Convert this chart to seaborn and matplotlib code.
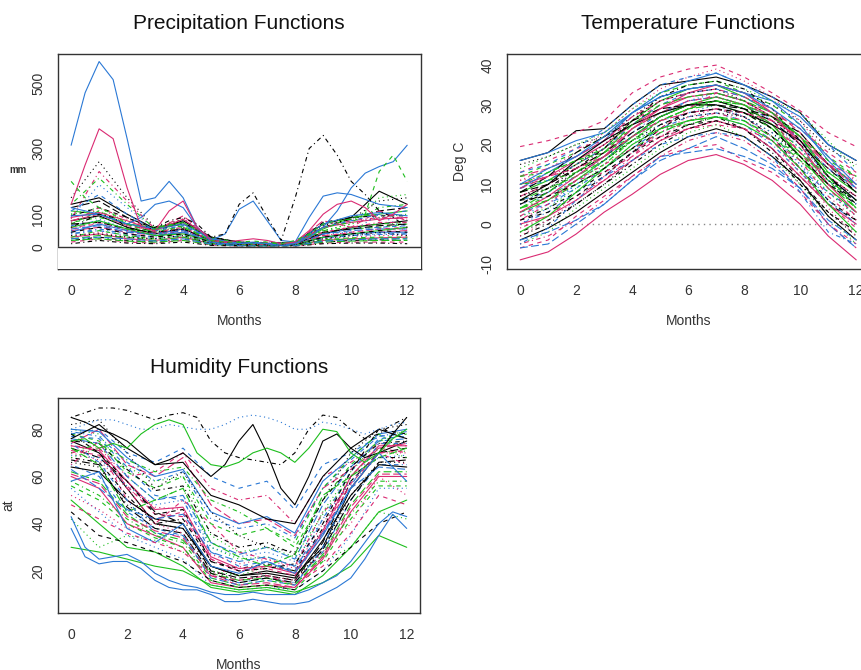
import numpy as np
import pandas as pd
import matplotlib
matplotlib.use("Agg")
import matplotlib.pyplot as plt
import seaborn as sns

# ------------------------------------------------------
# DATA
# bulk curves: monthly values at months 0..12
# special curves: half-month values at 0, 0.5, ..., 12
precip_curves = [
    [80, 95, 60, 40, 55, 20, 10, 8, 10, 40, 60, 70, 80],
    [60, 70, 40, 30, 45, 15, 8, 5, 8, 30, 45, 55, 60],
    [100, 120, 75, 50, 60, 25, 12, 10, 12, 50, 70, 90, 100],
    [40, 50, 35, 25, 35, 12, 6, 5, 6, 25, 35, 38, 40],
    [120, 140, 90, 55, 70, 30, 15, 12, 15, 60, 85, 110, 120],
    [30, 40, 25, 20, 30, 10, 5, 4, 5, 20, 25, 28, 30],
    [70, 110, 70, 45, 65, 20, 10, 8, 10, 45, 55, 60, 70],
    [90, 190, 120, 55, 80, 25, 12, 15, 12, 70, 80, 85, 90],
    [20, 30, 20, 15, 25, 8, 4, 3, 4, 15, 20, 22, 20],
    [50, 60, 45, 35, 50, 18, 8, 6, 8, 35, 40, 45, 50],
    [110, 100, 70, 60, 75, 25, 10, 8, 10, 55, 90, 100, 110],
    [65, 80, 50, 40, 55, 15, 8, 6, 10, 40, 55, 60, 65],
    [150, 260, 150, 60, 85, 30, 15, 10, 15, 65, 85, 140, 150],
    [85, 230, 140, 55, 70, 28, 14, 12, 14, 60, 80, 90, 85],
    [25, 35, 30, 20, 30, 10, 5, 4, 5, 20, 25, 25, 25],
    [45, 70, 50, 35, 45, 15, 7, 6, 7, 30, 40, 45, 45],
    [95, 120, 90, 50, 75, 25, 12, 10, 12, 75, 90, 95, 95],
    [35, 45, 30, 25, 40, 12, 6, 5, 6, 25, 30, 35, 35],
    [75, 90, 70, 45, 60, 22, 10, 8, 10, 50, 60, 70, 75],
    [55, 65, 45, 40, 50, 18, 8, 7, 8, 40, 50, 55, 55],
    [130, 150, 100, 55, 80, 30, 14, 10, 14, 70, 90, 170, 130],
    [15, 25, 15, 12, 20, 6, 3, 2, 3, 12, 15, 15, 15],
    [100, 110, 70, 50, 65, 22, 10, 8, 10, 50, 70, 150, 160],
    [40, 55, 40, 30, 45, 14, 7, 5, 7, 30, 35, 40, 40],
    [70, 75, 55, 45, 55, 20, 9, 8, 9, 45, 55, 65, 70],
    [90, 105, 80, 50, 85, 25, 11, 9, 11, 60, 75, 85, 90],
    [30, 50, 35, 25, 35, 11, 5, 4, 5, 22, 28, 30, 30],
    [50, 85, 55, 35, 50, 16, 8, 6, 8, 40, 45, 100, 50],
    [10, 20, 12, 10, 15, 5, 3, 2, 3, 10, 12, 12, 10],
    [80, 100, 65, 50, 95, 25, 12, 9, 12, 80, 60, 110, 80],
    [60, 80, 55, 35, 40, 18, 8, 6, 8, 30, 40, 50, 60],
    [110, 160, 100, 50, 65, 25, 12, 9, 12, 60, 80, 100, 110],
    [35, 40, 30, 25, 35, 10, 5, 4, 5, 25, 35, 45, 35],
    [75, 120, 85, 45, 60, 20, 10, 8, 10, 45, 60, 75, 75],
    [20, 25, 18, 15, 20, 8, 4, 3, 4, 15, 18, 20, 20],
    [95, 100, 70, 55, 70, 25, 12, 10, 12, 70, 95, 105, 95],
    [45, 60, 40, 30, 40, 15, 7, 6, 7, 30, 40, 50, 45],
    [55, 75, 50, 40, 55, 18, 9, 7, 9, 35, 45, 55, 55],
    [130, 210, 130, 55, 75, 28, 14, 10, 14, 60, 75, 120, 130],
    [25, 30, 25, 18, 25, 9, 4, 3, 4, 18, 22, 25, 25],
]
precip_big_blue = [310, 470, 565, 510, 330, 140, 150, 200, 150, 60, 15, 10, 10,
                   15, 10, 5, 10, 30, 60, 110, 180, 225, 245, 260, 310]
precip_blue2 = [120, 110, 100, 85, 70, 90, 130, 140, 120, 60, 20, 40, 115,
                140, 80, 20, 15, 90, 155, 165, 160, 145, 130, 125, 120]
precip_black_dashdot = [60, 80, 100, 90, 60, 50, 60, 80, 90, 70, 30, 40, 130,
                        165, 90, 20, 150, 300, 340, 280, 200, 160, 110, 90, 60]
precip_pink = [130, 250, 360, 330, 180, 60, 50, 110, 140, 60, 20, 15, 20,
               25, 20, 10, 15, 50, 100, 130, 140, 120, 80, 100, 130]
precip_green = [200, 150, 120, 100, 70, 50, 55, 70, 60, 40, 20, 15, 15,
                18, 15, 10, 20, 40, 70, 80, 85, 100, 230, 280, 200]

temp_curves = [
    [16, 18, 23.5, 24, 30, 35, 36, 37, 35, 32, 28, 20, 16],
    [-6, -4, 2, 7, 12, 17, 19, 20, 16, 13, 8, 0, -6],
    [-5, -2, 4, 9, 14, 19, 23, 25, 22, 17, 10, 2, -5],
    [0, 3, 8, 12, 18, 23, 26, 27, 25, 20, 13, 6, 0],
    [5, 8, 13, 17, 22, 27, 30, 31, 29, 24, 17, 10, 5],
    [10, 12, 16, 20, 25, 29, 32, 33, 31, 27, 21, 15, 10],
    [12, 15, 18, 22, 28, 33, 35, 36, 33, 30, 25, 17, 12],
    [2, 5, 10, 14, 20, 25, 28, 30, 27, 22, 15, 8, 2],
    [-3, 0, 5, 10, 16, 21, 25, 27, 24, 19, 11, 3, -3],
    [7, 10, 14, 18, 24, 28, 31, 32, 30, 25, 18, 12, 7],
    [8, 11, 15, 19, 26, 31, 34, 35, 32, 28, 22, 13, 8],
    [3, 5, 9, 14, 19, 24, 27, 28, 26, 21, 14, 8, 3],
    [15, 17, 20, 22, 27, 32, 34, 35, 33, 30, 26, 19, 15],
    [-1, 2, 7, 11, 17, 22, 26, 28, 26, 21, 13, 5, -1],
    [6, 9, 12, 16, 21, 26, 29, 30, 28, 24, 18, 11, 6],
    [9, 13, 17, 21, 28, 33, 36, 38, 35, 31, 25, 16, 9],
    [1, 4, 8, 13, 18, 22, 25, 26, 24, 19, 12, 5, 1],
    [11, 14, 18, 23, 29, 34, 37, 39, 36, 32, 26, 17, 11],
    [4, 7, 11, 15, 21, 26, 29, 31, 29, 25, 19, 11, 4],
    [-6, -5, 0, 5, 11, 16, 19, 22, 19, 15, 9, 0, -6],
    [-4, -1, 3, 8, 13, 18, 22, 24, 22, 17, 11, 2, -4],
    [13, 16, 19, 21, 26, 30, 32, 33, 31, 28, 24, 18, 13],
    [2, 4, 9, 15, 21, 27, 30, 31, 29, 24, 16, 8, 2],
    [6, 8, 12, 17, 23, 28, 31, 32, 30, 26, 20, 12, 6],
    [8, 10, 14, 18, 23, 27, 30, 31, 29, 26, 20, 14, 8],
    [0, 2, 6, 11, 16, 21, 24, 26, 24, 19, 12, 5, 0],
    [10, 13, 16, 19, 24, 28, 30, 31, 30, 27, 22, 15, 10],
    [5, 7, 11, 16, 22, 27, 31, 33, 31, 26, 19, 11, 5],
    [-2, 1, 5, 10, 15, 20, 24, 26, 24, 18, 10, 3, -2],
    [12, 14, 17, 21, 27, 31, 33, 34, 32, 29, 23, 15, 12],
    [3, 6, 11, 16, 22, 27, 30, 32, 30, 25, 17, 9, 3],
    [9, 11, 15, 19, 25, 30, 33, 34, 32, 28, 21, 14, 9],
    [7, 9, 13, 16, 21, 25, 27, 28, 27, 23, 17, 11, 7],
    [-5, -3, 1, 6, 12, 17, 21, 23, 21, 16, 9, 0, -5],
    [4, 6, 10, 14, 19, 23, 26, 27, 26, 22, 16, 10, 4],
    [16, 18, 21, 23, 28, 32, 34, 35, 33, 31, 27, 20, 16],
    [1, 3, 7, 12, 18, 24, 28, 29, 27, 22, 14, 6, 1],
    [11, 12, 15, 19, 24, 28, 31, 32, 30, 27, 21, 14, 11],
    [10, 11, 13, 17, 21, 24, 25, 27, 26, 22, 17, 13, 10],
    [-4, -2, 1, 5, 11, 17, 18, 19, 17, 14, 9, 1, -4],
    [6, 10, 16, 21, 25, 28, 30, 30, 28, 25, 21, 12, 6],
    [2, 6, 11, 13, 17, 24, 29, 33, 31, 26, 18, 9, 2],
    [14, 17, 20, 23, 29, 33, 35, 36, 34, 31, 28, 21, 14],
    [-5, -1, 6, 12, 16, 20, 22, 23, 22, 17, 8, -2, -5],
    [8, 12, 18, 22, 26, 29, 30, 30, 29, 27, 23, 15, 8],
    [3, 7, 12, 17, 24, 29, 33, 35, 33, 28, 20, 10, 3],
    [12, 13, 16, 18, 22, 26, 29, 31, 30, 27, 22, 16, 12],
    [0, 4, 10, 16, 22, 26, 28, 29, 27, 23, 15, 6, 0],
    [5, 9, 14, 19, 26, 32, 35, 36, 34, 29, 21, 12, 5],
    [9, 12, 14, 17, 22, 26, 28, 29, 28, 26, 22, 15, 9],
    [-2, 2, 8, 14, 20, 24, 26, 27, 25, 21, 14, 5, -2],
    [13, 15, 19, 24, 30, 35, 37, 38, 35, 32, 28, 20, 13],
    [7, 10, 15, 20, 26, 31, 33, 34, 31, 27, 20, 12, 7],
    [1, 5, 11, 15, 19, 22, 24, 25, 24, 21, 16, 7, 1],
    [4, 8, 13, 18, 25, 30, 32, 33, 31, 28, 22, 12, 4],
    [10, 14, 17, 22, 28, 32, 34, 35, 33, 29, 24, 17, 10],
    [6, 7, 10, 14, 19, 25, 28, 29, 28, 24, 17, 10, 6],
    [-3, 1, 6, 12, 18, 23, 27, 29, 27, 22, 14, 4, -3],
]
temp_pink_low = [-9, -7, -2.5, 3, 7.5, 12.5, 16, 17.5, 15, 11, 5, -3, -9]
temp_pink_high = [19.5, 21, 23, 26, 33, 37, 39, 40, 37, 33, 28.5, 23, 19.5]

humid_curves = [
    [75, 70, 55, 40, 38, 22, 18, 20, 18, 30, 55, 70, 75],
    [70, 72, 50, 42, 45, 25, 20, 22, 20, 35, 60, 72, 70],
    [80, 78, 60, 50, 55, 30, 25, 26, 22, 45, 62, 75, 80],
    [65, 60, 45, 38, 35, 18, 15, 17, 15, 28, 50, 65, 65],
    [72, 68, 58, 45, 40, 20, 17, 18, 16, 32, 58, 70, 72],
    [60, 55, 40, 35, 30, 15, 13, 14, 13, 25, 45, 60, 60],
    [78, 75, 62, 55, 60, 40, 35, 38, 30, 50, 65, 75, 78],
    [55, 45, 35, 30, 25, 14, 12, 13, 12, 20, 35, 55, 55],
    [68, 66, 52, 40, 42, 24, 21, 23, 20, 38, 60, 68, 68],
    [74, 80, 65, 60, 68, 48, 40, 42, 35, 55, 63, 72, 74],
    [50, 40, 30, 28, 22, 13, 11, 12, 10, 18, 30, 45, 50],
    [77, 76, 64, 52, 50, 28, 22, 24, 20, 42, 62, 76, 77],
    [66, 64, 48, 40, 38, 20, 16, 18, 16, 30, 52, 66, 66],
    [73, 72, 60, 62, 70, 55, 50, 52, 40, 60, 66, 74, 73],
    [62, 58, 44, 36, 33, 19, 16, 17, 14, 27, 48, 62, 62],
    [80, 79, 68, 60, 63, 45, 40, 43, 36, 58, 68, 78, 80],
    [45, 35, 32, 28, 24, 16, 13, 14, 12, 20, 30, 40, 45],
    [70, 67, 55, 47, 46, 27, 23, 25, 21, 40, 58, 70, 70],
    [58, 52, 42, 35, 32, 17, 14, 16, 14, 26, 44, 58, 58],
    [76, 74, 60, 50, 52, 32, 27, 30, 25, 48, 64, 75, 76],
    [64, 62, 50, 42, 40, 22, 18, 19, 17, 33, 52, 65, 64],
    [71, 69, 56, 44, 43, 25, 20, 21, 18, 36, 57, 70, 71],
    [42, 30, 35, 33, 28, 20, 18, 22, 20, 24, 30, 45, 42],
    [79, 77, 66, 58, 62, 42, 38, 40, 34, 55, 67, 77, 79],
    [67, 65, 47, 38, 36, 19, 15, 17, 15, 29, 50, 66, 67],
    [73, 71, 58, 46, 47, 26, 21, 22, 19, 37, 60, 73, 73],
    [56, 50, 40, 34, 30, 16, 13, 14, 12, 24, 42, 56, 56],
    [69, 68, 56, 48, 50, 30, 26, 28, 24, 42, 58, 68, 69],
    [75, 74, 63, 54, 56, 36, 30, 32, 27, 50, 64, 74, 75],
    [61, 57, 43, 37, 34, 18, 14, 15, 13, 26, 47, 61, 61],
    [30, 28, 25, 22, 20, 14, 12, 13, 11, 15, 22, 35, 30],
    [78, 80, 70, 66, 72, 60, 55, 58, 46, 65, 70, 77, 78],
    [82, 84, 70, 55, 62, 45, 35, 30, 28, 50, 70, 80, 82],
    [65, 75, 55, 40, 50, 40, 28, 25, 22, 45, 55, 70, 65],
    [72, 65, 45, 50, 55, 32, 26, 22, 27, 52, 60, 68, 72],
    [58, 62, 38, 32, 40, 22, 19, 24, 19, 35, 55, 70, 58],
    [78, 70, 58, 44, 46, 24, 20, 21, 23, 40, 62, 80, 78],
    [52, 46, 38, 40, 36, 18, 22, 18, 16, 28, 40, 60, 52],
    [70, 74, 67, 62, 64, 50, 45, 38, 32, 55, 68, 78, 70],
    [63, 55, 46, 42, 44, 28, 24, 26, 22, 36, 55, 64, 63],
    [76, 82, 72, 65, 66, 52, 48, 42, 40, 60, 72, 80, 76],
    [48, 42, 36, 32, 28, 18, 16, 18, 14, 22, 36, 52, 48],
    [68, 72, 64, 58, 60, 35, 28, 30, 26, 44, 60, 72, 68],
    [74, 66, 50, 36, 35, 17, 14, 16, 14, 30, 56, 74, 74],
]
humid_low_blue = [38, 26, 23, 24, 24, 21, 16, 13, 12, 12, 10, 7, 7,
                  8, 7, 6, 6, 7, 10, 13, 17, 25, 35, 44, 38]
humid_blue2 = [43, 30, 25, 26, 27, 24, 19, 16, 14, 13, 11, 10, 10,
               11, 10, 10, 10, 12, 15, 18, 24, 32, 40, 45, 43]
humid_black_wavy = [85, 83, 80, 78, 75, 70, 65, 67, 70, 65, 60, 65, 75,
                    82, 70, 55, 48, 60, 75, 78, 72, 68, 70, 78, 85]
humid_blue_dotted = [80, 82, 84, 84, 82, 80, 80, 82, 81, 80, 80, 82, 85,
                     86, 85, 83, 80, 80, 83, 82, 80, 78, 80, 82, 83]
humid_black_dashdot = [85, 87, 89, 89, 88, 86, 84, 86, 87, 85, 75, 70, 68,
                       67, 66, 65, 70, 80, 86, 85, 80, 76, 78, 82, 85]
humid_green = [75, 76, 72, 74, 72, 78, 82, 84, 82, 70, 65, 64, 66,
               70, 72, 70, 66, 72, 80, 79, 70, 66, 70, 76, 80]

# ------------------------------------------------------
# R-like colours / line types (matplot cycles them)
cols = ["#000000", "#DA2A72", "#1DBE1D", "#2A78D5"]
ltys = ["", (4, 4), (1, 3), (1, 3, 4, 3), (7, 3)]
BLACK, PINK, GREEN, BLUE = cols
SOLID, DASH, DOT, DOTDASH, LONGDASH = ltys


def to_long(curves, specials):
    rows = []
    pal, dsh = {}, {}
    for i, vals in enumerate(curves):
        name = "c%02d" % i
        pal[name] = cols[i % 4]
        dsh[name] = ltys[i % 5]
        for m, v in zip(np.linspace(0, 12, len(vals)), vals):
            rows.append((name, m, v))
    for name, vals, col, lty in specials:
        pal[name] = col
        dsh[name] = lty
        for m, v in zip(np.linspace(0, 12, len(vals)), vals):
            rows.append((name, m, v))
    return pd.DataFrame(rows, columns=["curve", "month", "value"]), pal, dsh


def draw(ax, df, pal, dsh):
    sns.lineplot(data=df, x="month", y="value", hue="curve", style="curve",
                 palette=pal, dashes=dsh, estimator=None, sort=False,
                 legend=False, lw=0.8, ax=ax)


def style_ax(ax, title, ylabel, ylim, yticks, yticklabels):
    ax.set_xlim(-0.48, 12.48)
    ax.set_ylim(*ylim)
    ax.set_xticks([0, 2, 4, 6, 8, 10, 12])
    ax.set_yticks(yticks)
    ax.set_yticklabels(yticklabels)
    ax.tick_params(direction="out", length=4.8, width=0.8, colors="#333333",
                   labelsize=10, pad=6)
    ax.tick_params(axis="y", labelrotation=90, pad=4)
    for lab in ax.get_yticklabels():
        lab.set_va("center")
    for sp in ax.spines.values():
        sp.set_visible(True)
        sp.set_color("#333333")
        sp.set_linewidth(1.0)
    ax.set_title(title, fontsize=15, pad=18, color="#111111")
    ax.set_xlabel("Months", fontsize=10, color="#333333")
    ax.xaxis.set_label_coords(0.5, -0.21)
    ax.set_ylabel(ylabel, fontsize=10, color="#333333")


sns.set_style("white")
plt.rcParams["font.family"] = ["Liberation Sans", "DejaVu Sans"]

fig = plt.figure(figsize=(8.62, 6.70), dpi=100)
ax1 = fig.add_axes([0.0669, 0.599, 0.4211, 0.3204])
ax2 = fig.add_axes([0.5878, 0.5985, 0.4211, 0.3209])
ax3 = fig.add_axes([0.0669, 0.0855, 0.4205, 0.3200])

# ------------------------------------------------------
# PRECIPITATION
df, pal, dsh = to_long(precip_curves, [
    ("big_blue", precip_big_blue, BLUE, SOLID),
    ("blue2", precip_blue2, BLUE, SOLID),
    ("black_dd", precip_black_dashdot, BLACK, DOTDASH),
    ("pink", precip_pink, PINK, SOLID),
    ("green", precip_green, GREEN, DASH),
])
draw(ax1, df, pal, dsh)
style_ax(ax1, "Precipitation Functions", "mm", (-66, 588),
         [0, 100, 200, 300, 400, 500], ["0", "100", "", "300", "", "500"])
ax1.axhspan(-100, 0, color="white", zorder=3)
ax1.axhline(0, color="#333333", lw=1.0, zorder=4)
ax1.set_ylabel("mm", rotation=0, fontsize=7, fontweight="bold", ha="center", va="center")
ax1.yaxis.set_label_coords(-0.109, 0.46)

# TEMPERATURE
df, pal, dsh = to_long(temp_curves, [
    ("pink_low", temp_pink_low, PINK, SOLID),
    ("pink_high", temp_pink_high, PINK, DASH),
])
draw(ax2, df, pal, dsh)
style_ax(ax2, "Temperature Functions", "Deg C", (-11.3, 42.8),
         [-10, 0, 10, 20, 30, 40], ["-10", "0", "10", "20", "30", "40"])
ax2.hlines(0, 0, 12, colors="#888888", linestyles=(0, (1, 3)), lw=1.0, zorder=1)
ax2.yaxis.set_label_coords(-0.109, 0.5)

# HUMIDITY
df, pal, dsh = to_long(humid_curves, [
    ("low_blue", humid_low_blue, BLUE, SOLID),
    ("blue2", humid_blue2, BLUE, SOLID),
    ("black_wavy", humid_black_wavy, BLACK, SOLID),
    ("blue_dot", humid_blue_dotted, BLUE, DOT),
    ("black_dd", humid_black_dashdot, BLACK, DOTDASH),
    ("green", humid_green, GREEN, SOLID),
])
draw(ax3, df, pal, dsh)
style_ax(ax3, "Humidity Functions", "at", (2.3, 93.1),
         [20, 40, 60, 80], ["20", "40", "60", "80"])
ax3.yaxis.set_label_coords(-0.118, 0.5)

fig.savefig("out.png", dpi=100)
